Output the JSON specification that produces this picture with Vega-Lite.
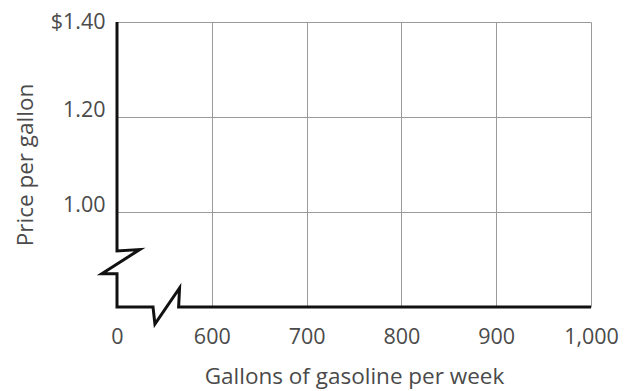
{
  "$schema": "https://vega.github.io/schema/vega-lite/v6.json",
  "width": 474,
  "height": 285,
  "autosize": {"type": "none"},
  "padding": {"left": 117, "top": 22, "right": 36, "bottom": 84},
  "background": "white",
  "config": {"view": {"stroke": null}, "font": "Open Sans"},
  "data": {
    "values": [
      {"i": 0, "gallons": 500, "price": 1.4},
      {"i": 1, "gallons": 500, "price": 0.918},
      {"i": 2, "gallons": 524, "price": 0.921},
      {"i": 3, "gallons": 484, "price": 0.87},
      {"i": 4, "gallons": 500, "price": 0.87},
      {"i": 5, "gallons": 500, "price": 0.8},
      {"i": 6, "gallons": 538, "price": 0.8},
      {"i": 7, "gallons": 540, "price": 0.764},
      {"i": 8, "gallons": 566, "price": 0.84},
      {"i": 9, "gallons": 565, "price": 0.8},
      {"i": 10, "gallons": 1000, "price": 0.8}
    ]
  },
  "mark": {"type": "line", "color": "#111111", "strokeWidth": 3, "strokeJoin": "miter", "clip": false},
  "encoding": {
    "order": {"field": "i", "type": "quantitative"},
    "x": {
      "field": "gallons",
      "type": "quantitative",
      "scale": {"domain": [500, 1000], "nice": false, "zero": false},
      "axis": {
        "title": "Gallons of gasoline per week",
        "values": [500, 600, 700, 800, 900, 1000],
        "labelExpr": "datum.value == 500 ? '0' : format(datum.value, ',')",
        "domain": false,
        "ticks": false,
        "grid": true,
        "gridColor": "#9a9a9a",
        "gridWidth": 1,
        "gridOpacity": {"condition": {"test": "datum.value == 500", "value": 0}, "value": 1},
        "labelFontSize": 21.5,
        "labelColor": "#4a4a4a",
        "labelPadding": 19,
        "labelFlush": false,
        "titleFontSize": 22.5,
        "titleFontWeight": "normal",
        "titleColor": "#4a4a4a",
        "titlePadding": 18
      }
    },
    "y": {
      "field": "price",
      "type": "quantitative",
      "scale": {"domain": [0.8, 1.4], "nice": false, "zero": false},
      "axis": {
        "title": "Price per gallon",
        "values": [0.8, 1.0, 1.2, 1.4],
        "labelExpr": "datum.value == 1.4 ? '$1.40' : datum.value < 0.9 ? '' : format(datum.value, '.2f')",
        "domain": false,
        "ticks": false,
        "grid": true,
        "gridColor": "#9a9a9a",
        "gridWidth": 1,
        "gridOpacity": {"condition": {"test": "datum.value < 0.9", "value": 0}, "value": 1},
        "labelFontSize": 21.5,
        "labelColor": "#4a4a4a",
        "labelPadding": 12,
        "labelOffset": {"condition": {"test": "datum.value > 1.3", "value": 0}, "value": -7},
        "labelFlush": false,
        "titleFontSize": 22.5,
        "titleFontWeight": "normal",
        "titleColor": "#4a4a4a",
        "titlePadding": 13
      }
    }
  }
}
